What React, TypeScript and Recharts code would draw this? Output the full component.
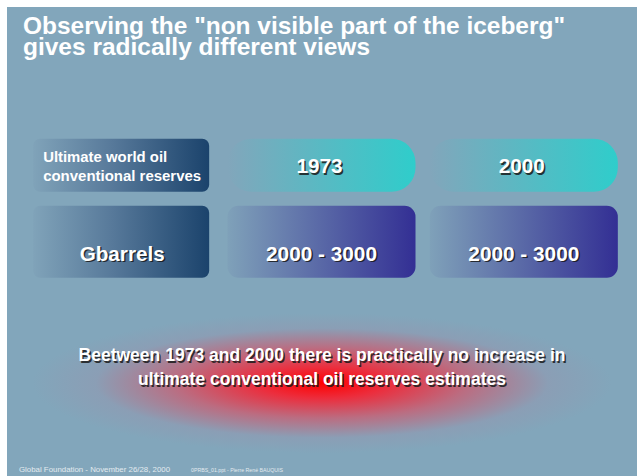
import { ScatterChart, Scatter, XAxis, YAxis, Customized } from 'recharts';

// table content of the slide
const columns = ['label', '1973', '2000'];
const rows = ['year', 'estimate'];
const rowLabel = ['Ultimate world oil', 'conventional reserves'];
const unitLabel = 'Gbarrels';
const years = ['1973', '2000'];
const estimates = ['2000 - 3000', '2000 - 3000'];

const titleLines = ['Observing the "non visible part of the iceberg"', 'gives radically different views'];
const conclusion = ['Beetween 1973 and 2000 there is practically no increase in', 'ultimate conventional oil reserves estimates'];
const footer = ['Global Foundation - November 26/28, 2000', '0PRBS_01.ppt - Pierre René BAUQUIS'];

const BG = '#82a6bb';
const FONT = '"Liberation Sans", Arial, sans-serif';

type Cell = { x: number; y: number; kind: string; text: string };

const cells: Cell[] = [
  { x: 0, y: 0, kind: 'rowLabel', text: rowLabel.join(' ') },
  ...years.map((t, i) => ({ x: i + 1, y: 0, kind: 'year', text: t })),
  { x: 0, y: 1, kind: 'unit', text: unitLabel },
  ...estimates.map((t, i) => ({ x: i + 1, y: 1, kind: 'value', text: t })),
];

function ShadowText({ x, y, text, size, len, anchor = 'middle' }: any) {
  const common = {
    fontFamily: FONT,
    fontWeight: 700,
    fontSize: size,
    textAnchor: anchor,
    textLength: len,
    lengthAdjust: 'spacingAndGlyphs',
  };
  return (
    <g>
      <text x={x + 1.5} y={y + 1.5} fill="#1a1a1a" fillOpacity={0.85} {...common}>{text}</text>
      <text x={x} y={y} fill="#ffffff" {...common}>{text}</text>
    </g>
  );
}

function CellShape(props: any) {
  const { cx, cy, payload } = props;
  const id = `g-${payload.x}-${payload.y}`;

  if (payload.kind === 'rowLabel' || payload.kind === 'unit') {
    const w = 176;
    const h = payload.y === 0 ? 53 : 72;
    const x0 = cx - 86;
    const y0 = cy - h / 2;
    return (
      <g>
        <defs>
          <linearGradient id={id} x1="0" y1="0" x2="1" y2="0">
            <stop offset="0" stopColor="#80a3b9" />
            <stop offset="0.45" stopColor="#57799a" />
            <stop offset="1" stopColor="#1b436c" />
          </linearGradient>
        </defs>
        <rect x={x0} y={y0} width={w} height={h} rx={7} fill={`url(#${id})`} />
        {payload.kind === 'rowLabel' ? (
          <g fontFamily={FONT} fontWeight={700} fontSize={14} fill="#ffffff">
            <text x={x0 + 10} y={cy - 3} textLength={124} lengthAdjust="spacingAndGlyphs">{rowLabel[0]}</text>
            <text x={x0 + 10} y={cy + 16} textLength={158} lengthAdjust="spacingAndGlyphs">{rowLabel[1]}</text>
          </g>
        ) : (
          <ShadowText x={x0 + 89} y={cy + 19} text={payload.text} size={21} len={85} />
        )}
      </g>
    );
  }

  const w = 188;
  const isYear = payload.kind === 'year';
  const h = isYear ? 53 : 72;
  const x0 = cx - 94;
  const y0 = cy - h / 2;
  const r = isYear ? 24 : 11;
  return (
    <g>
      <defs>
        <linearGradient id={id} x1="0" y1="0" x2="1" y2="0">
          {isYear ? (
            <>
              <stop offset="0" stopColor="#82a6bb" />
              <stop offset="1" stopColor="#2fcdcb" />
            </>
          ) : (
            <>
              <stop offset="0" stopColor="#7fa1b9" />
              <stop offset="1" stopColor="#332f94" />
            </>
          )}
        </linearGradient>
      </defs>
      <rect x={x0} y={y0} width={w} height={h} rx={r} fill={`url(#${id})`} />
      {isYear ? (
        <ShadowText x={cx - 2} y={cy + 8} text={payload.text} size={20} len={46} />
      ) : (
        <ShadowText x={cx} y={cy + 19} text={payload.text} size={21} len={111} />
      )}
    </g>
  );
}

function SlideText() {
  return (
    <g>
      <g fontFamily={FONT} fontWeight={700} fontSize={24} fill="#ffffff">
        <text x={23} y={34} textLength={542} lengthAdjust="spacingAndGlyphs">{titleLines[0]}</text>
        <text x={23} y={55} textLength={347} lengthAdjust="spacingAndGlyphs">{titleLines[1]}</text>
      </g>
      <ShadowText x={322} y={361} text={conclusion[0]} size={18} len={487} />
      <ShadowText x={322} y={385} text={conclusion[1]} size={18} len={368} />
      <text x={19} y={472} fontFamily={FONT} fontSize={7.5} fill="#e2ebf0" textLength={151} lengthAdjust="spacingAndGlyphs">{footer[0]}</text>
      <text x={191} y={472} fontFamily={FONT} fontSize={4.5} fill="#e2ebf0" textLength={92} lengthAdjust="spacingAndGlyphs">{footer[1]}</text>
    </g>
  );
}

export default function App() {
  return (
    <div style={{ position: 'absolute', left: 0, top: 0, width: 637, height: 476, background: '#ffffff' }}>
      <div
        style={{
          position: 'absolute',
          left: 7,
          top: 7,
          width: 630,
          height: 469,
          background: `radial-gradient(ellipse 290px 70px at 315px 376px, rgba(255,0,0,1) 0%, rgba(245,35,50,0.92) 22%, rgba(225,70,90,0.6) 50%, rgba(170,130,160,0.22) 78%, rgba(130,166,187,0) 100%), ${BG}`,
        }}
      />
      <div style={{ position: 'absolute', left: 0, top: 0 }}>
        <ScatterChart width={637} height={476} margin={{ top: 127, right: 12, bottom: 196, left: 18 }}>
          <XAxis type="number" dataKey="x" domain={[-0.5, columns.length - 0.5]} hide />
          <YAxis type="number" dataKey="y" domain={[-0.5, rows.length - 0.5]} reversed hide />
          <Scatter data={cells} shape={CellShape} isAnimationActive={false} />
          <Customized component={SlideText} />
        </ScatterChart>
      </div>
    </div>
  );
}
